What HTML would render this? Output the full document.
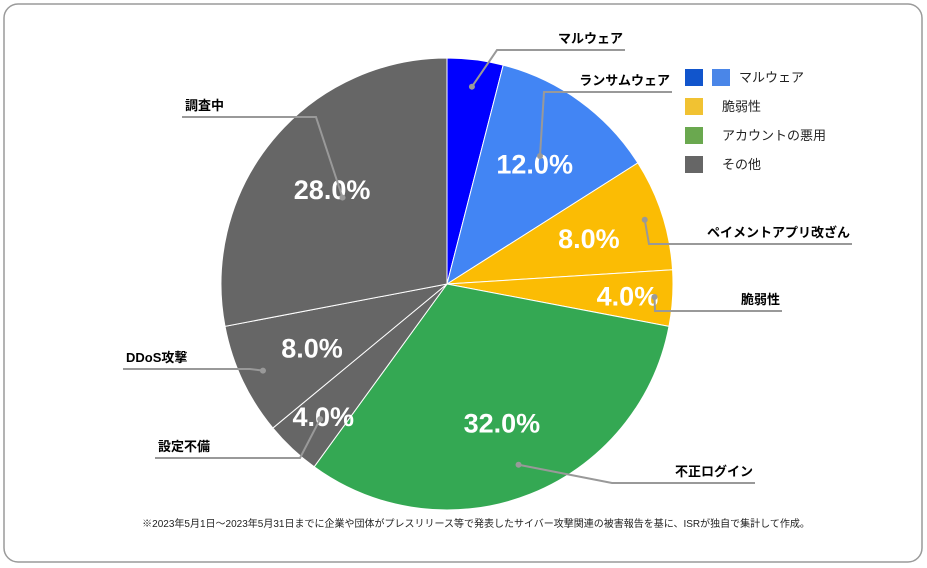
<!DOCTYPE html>
<html><head><meta charset="utf-8"><style>
html,body{margin:0;padding:0;background:#fff;}
svg{display:block;font-family:"Liberation Sans","Noto Sans CJK JP",sans-serif;}
</style></head><body>
<svg id="chart" width="927" height="568" viewBox="0 0 927 568">
<rect x="4" y="4" width="918" height="558" rx="14" fill="#fff" stroke="#9a9a9a" stroke-width="1.5"/>
<g id="slices"></g>
<g id="labels"></g>
<g font-size="13" fill="#222">
<rect x="685" y="69" width="18" height="17" fill="#1155cc"/>
<rect x="712" y="69" width="18" height="17" fill="#4a86e8"/>
<text x="739" y="82">マルウェア</text>
<rect x="685" y="98" width="18" height="17" fill="#f1c232"/>
<text x="722" y="111">脆弱性</text>
<rect x="685" y="127" width="18" height="17" fill="#6aa84f"/>
<text x="722" y="140">アカウントの悪用</text>
<rect x="685" y="156" width="18" height="17" fill="#666666"/>
<text x="722" y="169">その他</text>
</g>
<text x="476" y="527" text-anchor="middle" font-size="10" fill="#222">※2023年5月1日～2023年5月31日までに企業や団体がプレスリリース等で発表したサイバー攻撃関連の被害報告を基に、ISRが独自で集計して作成。</text>
</svg>
<script>
const categories=["マルウェア","ランサムウェア","ペイメントアプリ改ざん","脆弱性","不正ログイン","設定不備","DDoS攻撃","調査中"];
const values=[4,12,8,4,32,4,8,28];
const valueLabels=["4.0%","12.0%","8.0%","4.0%","32.0%","4.0%","8.0%","28.0%"];
const colors=["#0000ff","#4285f4","#fbbc04","#fbbc04","#34a853","#666666","#666666","#666666"];
const showPct=[false,true,true,true,true,true,true,true];
// leader geometry: [elbowX, elbowY, endX, labelAnchor]
const leaders=[[497,50,625,"end"],[544,92,672,"end"],[649,244,852,"end"],[655,311,782,"end"],[612,483,755,"end"],[300,458,155,"start"],[250,369,123,"start"],[316,117,182,"start"]];
const dotR=[0.88,0.7,0.92,0.92,0.86,0.82,0.9,0.6];
const cx=447,cy=284,R=226;
const NS="http://www.w3.org/2000/svg";
const gS=document.getElementById('slices'),gL=document.getElementById('labels');
const total=values.reduce((a,b)=>a+b,0);
function pt(a,r){return [cx+r*Math.sin(a),cy-r*Math.cos(a)];}
let acc=0;
values.forEach((v,i)=>{
 const a0=acc/total*2*Math.PI;acc+=v;const a1=acc/total*2*Math.PI;
 const p0=pt(a0,R),p1=pt(a1,R);
 const p=document.createElementNS(NS,'path');
 p.setAttribute('d',`M${cx},${cy}L${p0[0]},${p0[1]}A${R},${R} 0 ${a1-a0>Math.PI?1:0} 1 ${p1[0]},${p1[1]}Z`);
 p.setAttribute('fill',colors[i]);p.setAttribute('stroke','#fff');p.setAttribute('stroke-width','1');
 
 
 gS.appendChild(p);
 const am=(a0+a1)/2;
 if(showPct[i]){
  const r=(v<=4)?R*0.8:R*0.66;const q=pt(am,r);
  const t=document.createElementNS(NS,'text');
  t.setAttribute('x',q[0]);t.setAttribute('y',q[1]+10);t.setAttribute('text-anchor','middle');
  t.setAttribute('font-size','27');t.setAttribute('font-weight','bold');t.setAttribute('fill','#fff');
  t.textContent=valueLabels[i];
  
  
  gL.appendChild(t);
 }
 const d=pt(am,R*dotR[i]);const L=leaders[i];
 const ln=document.createElementNS(NS,'polyline');
 ln.setAttribute('points',`${d[0]},${d[1]} ${L[0]},${L[1]} ${L[2]},${L[1]}`);
 ln.setAttribute('fill','none');ln.setAttribute('stroke','#999');ln.setAttribute('stroke-width','2');
 
 
 gL.appendChild(ln);
 const c=document.createElementNS(NS,'circle');
 c.setAttribute('cx',d[0]);c.setAttribute('cy',d[1]);c.setAttribute('r','3');c.setAttribute('fill','#999');
 
 
 gL.appendChild(c);
 const lt=document.createElementNS(NS,'text');
 const lx=L[3]==="end"?L[2]-2:L[2]+3;
 lt.setAttribute('x',lx);lt.setAttribute('y',L[1]-7);lt.setAttribute('text-anchor',L[3]);
 lt.setAttribute('font-size','13');lt.setAttribute('font-weight','bold');lt.setAttribute('fill','#000');
 lt.textContent=categories[i];
 
 
 gL.appendChild(lt);
});
</script>
</body></html>
